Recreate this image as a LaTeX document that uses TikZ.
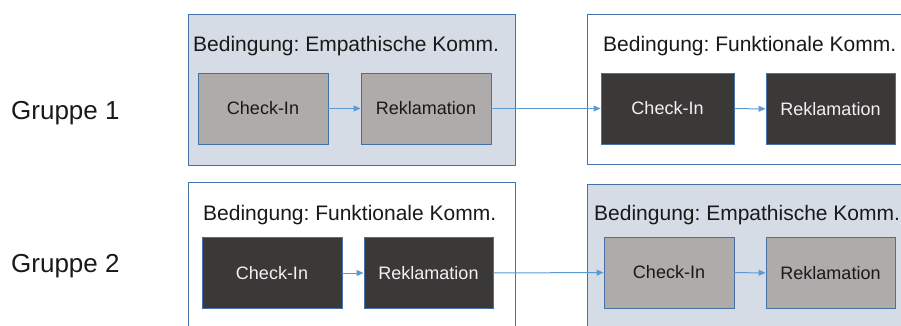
\documentclass[tikz,border=0pt]{standalone}
\usepackage{fontspec}
\setmainfont{Liberation Sans}
\usetikzlibrary{arrows.meta,positioning}
\frenchspacing
\definecolor{contfill}{HTML}{D6DCE5}
\definecolor{bordblue}{HTML}{4472A8}
\definecolor{graybox}{HTML}{AFABAB}
\definecolor{darkbox}{HTML}{3B3838}
\definecolor{arrowblue}{HTML}{5B9BD5}
\definecolor{txtlight}{HTML}{F2F2F2}
\tikzset{
  container/.style={draw=bordblue, line width=1.1pt, anchor=north west, inner sep=0pt},
  lightcont/.style={container, fill=contfill},
  whitecont/.style={container, fill=white},
  title/.style={anchor=base west, inner sep=0pt, font=\fontsize{21}{24}\selectfont, text=black!90},
  stepbox/.style={draw=bordblue, line width=0.9pt, inner sep=0pt, minimum height=71pt, font=\fontsize{18}{21}\selectfont},
  graystep/.style={stepbox, fill=graybox, text=black!90},
  darkstep/.style={stepbox, fill=darkbox, text=txtlight},
  flow/.style={draw=arrowblue, line width=1pt, -{Triangle[length=7pt,width=6pt]}},
  grp/.style={anchor=base west, inner sep=0pt, font=\fontsize{26}{29}\selectfont, text=black!90}
}
\begin{document}
\begin{tikzpicture}[x=1pt,y=-1pt]
\useasboundingbox (0,0) rectangle (901,326);
\clip (0,0) rectangle (901,326);
% containers
\node[lightcont, minimum width=327pt, minimum height=151pt] (c1) at (188,14) {};
\node[whitecont, minimum width=340pt, minimum height=150pt] (c2) at (587,14) {};
\node[whitecont, minimum width=327pt, minimum height=170pt] (c3) at (188,182) {};
\node[lightcont, minimum width=340pt, minimum height=170pt] (c4) at (587,184) {};
% titles
\node[title] (t1) at (193,52) {Bedingung: Empathische Komm.};
\node[title] (t2) at (603,52) {Bedingung: Funktionale Komm.};
\node[title] (t3) at (203,220) {Bedingung: Funktionale Komm.};
\node[title] (t4) at (594,220) {Bedingung: Empathische Komm.};
% group labels
\node[grp] (g1) at (11,119) {Gruppe 1};
\node[grp] (g2) at (11,272) {Gruppe 2};
% steps group 1
\node[graystep, minimum width=130pt] (a1) at (263,108.5) {Check-In};
\node[graystep, minimum width=130pt] (a2) at (426,108.5) {Reklamation};
\node[darkstep, minimum width=133pt] (a3) at (667.5,108.5) {Check-In};
\node[darkstep, minimum width=129pt] (a4) at (830.5,109) {Reklamation};
% steps group 2
\node[darkstep, minimum width=140pt] (b1) at (272,273) {Check-In};
\node[darkstep, minimum width=129pt] (b2) at (428.5,273) {Reklamation};
\node[graystep, minimum width=130pt] (b3) at (669,272.5) {Check-In};
\node[graystep, minimum width=129pt] (b4) at (830.5,273) {Reklamation};
% connectors
\draw[flow] (a1) -- (a2);
\draw[flow] (a2) -- (a3);
\draw[flow] (a3) -- (a4);
\draw[flow] (b1) -- (b2);
\draw[flow] (b2) -- (b3);
\draw[flow] (b3) -- (b4);
\end{tikzpicture}
\end{document}
